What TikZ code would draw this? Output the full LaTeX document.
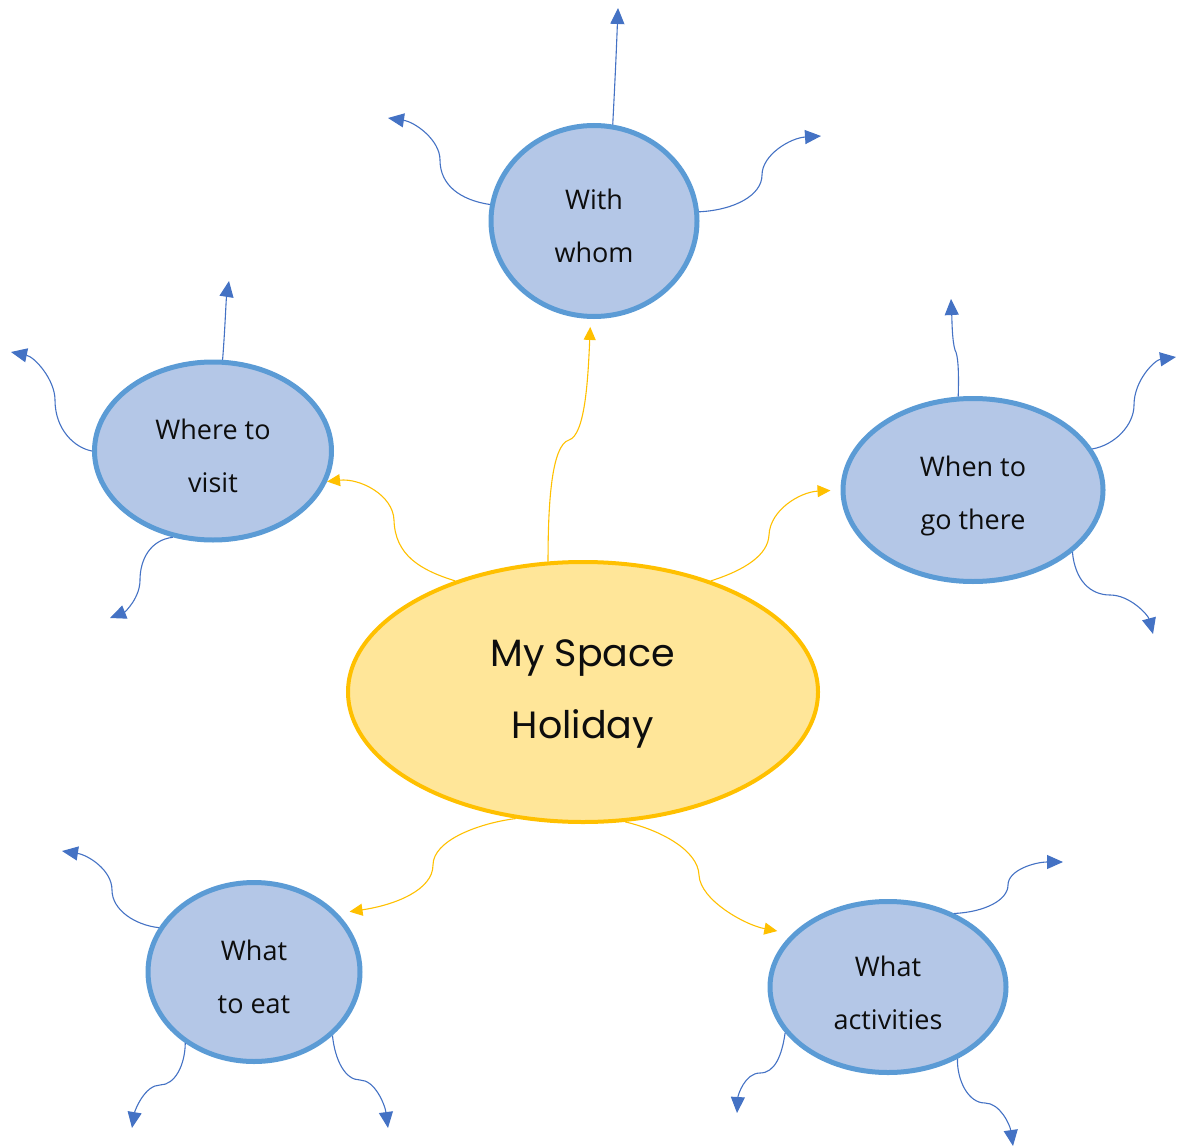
\documentclass[tikz,border=0pt]{standalone}
\usepackage{fontspec}
\setmainfont{Open Sans}
\newfontfamily\centerfont{Poppins}
\usetikzlibrary{shapes.geometric,arrows.meta}
\definecolor{yfill}{HTML}{FFE699}
\definecolor{yline}{HTML}{FFC000}
\definecolor{bfill}{HTML}{B4C7E7}
\definecolor{bline}{HTML}{5B9BD5}
\definecolor{barrow}{HTML}{4472C4}
\definecolor{txt}{HTML}{0D0D0D}
\newcommand{\uplift}[1]{\rule{0pt}{#1}}
\tikzset{
  hub/.style={ellipse, draw=yline, fill=yfill, line width=4pt, inner sep=0pt,
    text=txt, align=center, font={\centerfont\fontsize{38}{72}\selectfont}},
  topic/.style={ellipse, draw=bline, fill=bfill, line width=5pt, inner sep=0pt,
    text=txt, align=center, font={\fontsize{27}{53}\selectfont}},
  ylink/.style={draw=yline, line width=1.1pt, -{Triangle[length=13pt,width=12pt]}},
  blink/.style={draw=barrow, line width=1.1pt, -{Triangle[length=16pt,width=14pt]}},
}
\begin{document}
\begin{tikzpicture}[x=1pt,y=-1pt]
\useasboundingbox (0,0) rectangle (1177,1147);

% nodes
\node[hub, minimum width=470pt, minimum height=260pt] (c) at (583,692) {\uplift{31pt}My Space\\Holiday};
\node[topic, minimum width=206pt, minimum height=191pt] (w) at (594,221) {\uplift{31pt}With\\whom};
\node[topic, minimum width=237pt, minimum height=178pt] (v) at (213,451) {\uplift{31pt}Where to\\visit};
\node[topic, minimum width=260pt, minimum height=183pt] (n) at (973,490) {\uplift{32pt}When to\\go there};
\node[topic, minimum width=212pt, minimum height=179pt] (e) at (254,972) {\uplift{31pt}What\\to eat};
\node[topic, minimum width=236pt, minimum height=171pt] (a) at (888,987) {\uplift{32pt}What\\activities};

% yellow links
\draw[ylink, shorten >=8pt] (c.105) .. controls (548,500) and (552,445) .. (569,440)
   .. controls (585,435) and (588,380) .. (w.268);
\draw[ylink] (c.139) .. controls (420,570) and (395,555) .. (394,520)
   .. controls (393,495) and (360,478) .. (v.-15);
\draw[ylink, shorten >=10pt] (c.41) .. controls (745,570) and (768,555) .. (769,535)
   .. controls (770,510) and (800,492) .. (n.west);
\draw[ylink, shorten >=12pt] (c.242) .. controls (480,823) and (433,840) .. (433,865)
   .. controls (433,890) and (395,905) .. (e.35);
\draw[ylink, shorten >=15pt] (c.-72) .. controls (660,830) and (698,850) .. (699,875)
   .. controls (700,900) and (745,925) .. (a.151);

% free ends
\coordinate (w1) at (618,8);
\coordinate (w2) at (388,118);
\coordinate (w3) at (821,136);
\coordinate (v1) at (229,281);
\coordinate (v2) at (11,352);
\coordinate (v3) at (110,618);
\coordinate (n1) at (951,299);
\coordinate (n2) at (1176,357);
\coordinate (n3) at (1153,634);
\coordinate (e1) at (62,851);
\coordinate (e2) at (132,1128);
\coordinate (e3) at (388,1128);
\coordinate (a1) at (1063,862);
\coordinate (a2) at (737,1113);
\coordinate (a3) at (1013,1146);

% blue links
\draw[blink] (w.79) .. controls (615,80) and (616,60) .. (w1);
\draw[blink] (w.171) .. controls (460,200) and (440,185) .. (440,160)
   .. controls (440,140) and (415,122) .. (w2);
\draw[blink] (w.5) .. controls (735,210) and (762,195) .. (762,175)
   .. controls (762,155) and (790,138) .. (w3);

\draw[blink] (v.84) .. controls (225,330) and (226,300) .. (v1);
\draw[blink] (v.180) .. controls (75,448) and (55,430) .. (55,400)
   .. controls (55,380) and (35,357) .. (v2);
\draw[blink] (v.245) .. controls (150,540) and (140,560) .. (140,580)
   .. controls (140,598) and (125,612) .. (v3);

\draw[blink] (n.99) .. controls (959,370) and (958,355) .. (955,350)
   .. controls (952,340) and (952,320) .. (n1);
\draw[blink] (n.19) .. controls (1115,445) and (1134,425) .. (1134,405)
   .. controls (1134,380) and (1155,360) .. (n2);
\draw[blink] (n.-32) .. controls (1075,580) and (1090,595) .. (1110,595)
   .. controls (1130,595) and (1148,615) .. (n3);

\draw[blink] (e.155) .. controls (135,925) and (112,910) .. (112,890)
   .. controls (112,870) and (88,855) .. (e1);
\draw[blink] (e.226) .. controls (185,1065) and (175,1085) .. (160,1085)
   .. controls (145,1085) and (135,1110) .. (e2);
\draw[blink] (e.-39) .. controls (335,1060) and (345,1080) .. (360,1080)
   .. controls (375,1080) and (385,1105) .. (e3);

\draw[blink] (a.48) .. controls (985,912) and (1008,900) .. (1008,885)
   .. controls (1008,870) and (1035,862) .. (a1);
\draw[blink] (a.204) .. controls (782,1055) and (775,1073) .. (760,1073)
   .. controls (745,1073) and (738,1095) .. (a2);
\draw[blink] (a.-46) .. controls (957,1080) and (968,1103) .. (985,1103)
   .. controls (1000,1103) and (1010,1125) .. (a3);
\end{tikzpicture}
\end{document}
